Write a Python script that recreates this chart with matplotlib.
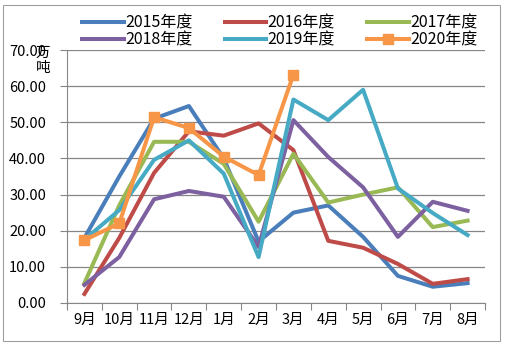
import matplotlib
matplotlib.use("Agg")
import matplotlib.pyplot as plt
from matplotlib.patches import Rectangle
import numpy as np

plt.rcParams['font.family'] = ['Noto Sans CJK SC', 'DejaVu Sans']

months = ['9月', '10月', '11月', '12月', '1月', '2月', '3月', '4月', '5月', '6月', '7月', '8月']
y2015 = [18, 35, 51, 54.5, 40, 17, 25, 27, 18.3, 7.5, 4.5, 5.5]
y2016 = [2.5, 18, 36, 47.5, 46.3, 49.7, 42.3, 17.2, 15.3, 10.8, 5.3, 6.6]
y2017 = [5.5, 27, 44.6, 44.6, 38.5, 22.5, 41.3, 27.8, 30, 32, 21, 22.8]
y2018 = [5, 12.7, 28.7, 31, 29.4, 15.5, 50.6, 40.4, 32, 18.3, 28, 25.5]
y2019 = [17.5, 25.7, 39.6, 45, 35.8, 12.7, 56.3, 50.6, 59, 31.7, 24.9, 18.8]
y2020 = [17.4, 22, 51.4, 48.4, 40.5, 35.4, 63.2]

series = [('2015年度', y2015, '#4A7EBB'), ('2016年度', y2016, '#BE4B48'),
          ('2017年度', y2017, '#98B954'), ('2018年度', y2018, '#7D60A0'),
          ('2019年度', y2019, '#46AAC5'), ('2020年度', y2020, '#F69646')]

fig = plt.figure(figsize=(5.07, 3.46), dpi=100)
ax = fig.add_axes([67/507, 1-303/346, 418/507, 253/346])

x = np.arange(len(months))
handles = {}
for name, vals, col in series:
    if name == '2020年度':
        h, = ax.plot(x[:len(vals)], vals, color=col, lw=2.9, marker='s', ms=7.5, zorder=5, label=name)
    else:
        h, = ax.plot(x[:len(vals)], vals, color=col, lw=2.9, label=name)
    handles[name] = h

ax.set_xlim(-0.5, 11.5)
ax.set_ylim(0, 70)
ax.set_yticks(np.arange(0, 71, 10))
ax.set_yticklabels(['%.2f' % v for v in np.arange(0, 71, 10)], fontsize=10.5)
ax.set_xticks(np.arange(-0.5, 12, 1))
ax.set_xticklabels([])
ax.set_xticks(x, minor=True)
ax.set_xticklabels(months, minor=True, fontsize=10.5)
ax.tick_params(axis='x', which='minor', length=0, pad=7)
ax.tick_params(axis='x', which='major', length=5, color='#868686')
ax.tick_params(axis='y', length=5, color='#868686', pad=10)
ax.grid(axis='y', color='#868686', lw=0.9)
ax.set_axisbelow(True)
for s in ['top', 'right']:
    ax.spines[s].set_visible(False)
ax.spines['left'].set_color('#868686')
ax.spines['bottom'].set_color('#868686')

fig.text(43/507, 1-60/346, '万\n吨', fontsize=10.5, ha='center', va='center', linespacing=1.1)

# row-major order in the picture, matplotlib fills columns first
order = ['2015年度', '2018年度', '2016年度', '2019年度', '2017年度', '2020年度']
fig.legend(handles=[handles[k] for k in order], loc='center', bbox_to_anchor=(0.552, 1-31.5/346), ncol=3,
           frameon=False, fontsize=11.5, handlelength=2.6, columnspacing=2.0,
           labelspacing=0.05, handletextpad=0.1, borderaxespad=0, borderpad=0)

fig.patches.append(Rectangle((3/507, 5/346), 497/507, 336/346, transform=fig.transFigure,
                             fill=False, edgecolor='#A0A0A0', lw=0.8))

fig.savefig('out.png', dpi=100)
